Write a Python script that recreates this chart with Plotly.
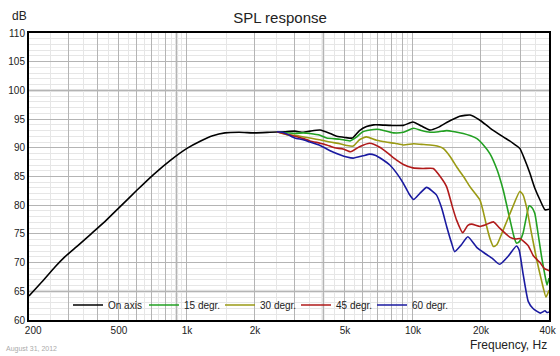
import math
import plotly.graph_objects as go

# ---------------- data ----------------
on_axis_f = [200, 230, 260, 288, 330, 379, 440, 505, 600, 709, 850, 1000, 1150, 1300, 1473, 1700,
             2000, 2330, 2700, 3000, 3270, 3500, 3880, 4300, 4600, 5000, 5400, 5800, 6230, 6700,
             7130, 8000, 9070, 10000, 10900, 11900, 13000, 14100, 16100, 17900, 19800, 22000,
             25100, 27500, 29700, 31200, 32900, 34600, 36500, 38400, 40000]
on_axis_db = [64.2, 66.8, 69.2, 71.0, 73.0, 75.1, 77.4, 79.7, 82.6, 85.3, 87.9, 89.9, 91.2, 92.1, 92.6, 92.7,
              92.6, 92.7, 92.8, 92.9, 92.7, 92.9, 93.1, 92.5, 92.0, 91.8, 91.7, 93.0, 93.7, 94.0,
              94.0, 93.9, 93.9, 94.5, 93.8, 93.1, 93.6, 94.4, 95.5, 95.7, 94.8, 93.4,
              91.9, 90.9, 89.9, 88.0, 85.6, 83.0, 80.9, 79.2, 79.3]

deg15_f = [2500, 3000, 3270, 3500, 3880, 4150, 4750, 5270, 5600, 6000, 6700, 7130, 8200, 9070,
           10070, 10900, 11900, 13000, 14100, 15300, 16700, 18000, 19200, 20500, 21900, 23500,
           25100, 26900, 28000, 28700, 29500, 30700, 31700, 32700, 33600, 34600, 35800, 37100,
           38500, 39200, 40000]
deg15_db = [92.8, 92.5, 92.6, 92.5, 92.2, 91.7, 91.5, 91.2, 91.8, 92.8, 93.2, 93.2, 92.6, 92.7,
            93.4, 93.0, 92.7, 92.8, 93.0, 92.8, 92.5, 92.1, 91.6, 90.5, 89.0, 86.3,
            82.6, 77.4, 74.5, 73.4, 73.6, 75.1, 77.8, 79.9, 79.6, 78.6, 75.0, 71.0,
            67.5, 66.1, 67.3]

deg30_f = [2500, 2760, 3000, 3500, 3880, 4300, 4750, 5100, 5440, 5800, 6230, 6900, 7600, 8300,
           9070, 10070, 10900, 11900, 12800, 13600, 14600, 15600, 16800, 17900, 19800, 20500,
           21200, 22000, 22700, 23500, 25100, 27500, 29700, 30700, 31800, 33500, 35300, 37000,
           38800, 40000]
deg30_db = [92.8, 92.3, 92.2, 91.7, 91.4, 91.0, 90.7, 90.4, 90.3, 91.4, 91.9, 91.3, 91.0, 90.8,
            90.5, 90.7, 90.6, 90.5, 90.3, 89.9, 88.5, 86.7, 84.9, 83.2, 80.9, 78.8,
            76.3, 74.0, 72.8, 73.1, 75.7, 79.5, 82.4, 81.8, 79.7, 75.0, 70.5, 67.0,
            64.0, 65.2]

deg45_f = [2500, 2670, 3000, 3270, 3500, 3880, 4150, 4500, 4900, 5300, 5800, 6450, 7130, 7670,
           8500, 9070, 10000, 11100, 12300, 13200, 14100, 15000, 15600, 16600, 17500, 18200,
           19800, 21000, 22700, 24200, 26900, 28500, 29700, 32300, 34100, 36500, 38100, 40000]
deg45_db = [92.8, 92.5, 92.0, 91.6, 91.2, 90.8, 90.5, 90.0, 89.8, 89.3, 90.2, 90.8, 90.1, 89.2,
            87.8, 87.1, 86.5, 86.4, 86.4, 85.0, 83.2, 79.5, 77.4, 75.2, 76.5, 76.7,
            76.3, 76.6, 77.1, 76.0, 74.4, 74.1, 74.2, 73.0, 71.2, 70.0, 69.0, 68.6]

deg60_f = [2500, 2650, 2800, 3000, 3270, 3500, 3880, 4300, 4750, 5100, 5440, 6000, 6450, 6800,
           7300, 7900, 8500, 9070, 9600, 10070, 10700, 11500, 12700, 13400, 14100, 14800, 15300,
           16300, 17500, 19200, 21000, 22500, 24200, 26500, 28700, 29500, 30700, 31500, 32400,
           34000, 36600, 38400, 39200, 40000]
deg60_db = [92.8, 92.7, 92.3, 91.7, 91.4, 91.0, 90.4, 89.5, 88.8, 88.4, 88.2, 88.6, 88.9, 88.7,
            88.0, 87.0, 85.5, 83.8, 82.0, 81.0, 82.0, 83.1, 81.8, 79.5, 76.3, 73.5, 71.9,
            73.0, 74.5, 72.6, 71.5, 70.7, 69.7, 71.2, 72.9, 72.2, 68.1, 65.5, 63.2,
            62.0, 61.2, 61.6, 61.3, 61.4]

series_names = ["On axis", "15 degr.", "30 degr.", "45 degr.", "60 degr."]
series_colors = ["#000000", "#22a022", "#9a9a14", "#b01a1a", "#1a1aa0"]

x_tick_vals = [200, 500, 1000, 2000, 5000, 10000, 20000, 40000]
x_tick_text = ["\u00a0\u00a0\u00a0200", "500", "1k", "2k", "5k", "10k", "20k", "40k\u00a0"]
x_major_grid = [m * 10 ** e for e in (2, 3, 4) for m in range(1, 10) if 200 <= m * 10 ** e <= 40000]
x_minor_grid = [(m + 0.5) * 10 ** e for e in (2, 3, 4) for m in range(1, 10) if 200 <= (m + 0.5) * 10 ** e <= 40000]
highlight_freqs = [900, 4000]
highlight_dbs = [100, 65]

# ---------------- figure ----------------
fig = go.Figure()
freqs = [on_axis_f, deg15_f, deg30_f, deg45_f, deg60_f]
dbs = [on_axis_db, deg15_db, deg30_db, deg45_db, deg60_db]
for i in range(5):
    fig.add_trace(go.Scatter(x=freqs[i], y=dbs[i], mode="lines", name=series_names[i],
                             line=dict(color=series_colors[i], width=1.6, shape="spline", smoothing=0.5)))

W, H = 560, 356
L, R, T, B = 29, 11, 33, 36

def px_x(p):
    return (p - L) / (W - L - R)

def px_y(p):
    return (H - B - p) / (H - T - B)

shapes = []
for f in highlight_freqs:
    shapes.append(dict(type="line", xref="x", yref="paper", x0=f, x1=f, y0=0, y1=1,
                       line=dict(color="#e0e0e0", width=3), layer="between"))
for d in highlight_dbs:
    shapes.append(dict(type="line", xref="paper", yref="y", x0=0, x1=1, y0=d, y1=d,
                       line=dict(color="#e0e0e0", width=3), layer="between"))

font_family = "Arial, Liberation Sans, sans-serif"

fig.update_layout(
    width=W, height=H,
    margin=dict(l=L, r=R, t=T, b=B, pad=0, autoexpand=False),
    paper_bgcolor="white", plot_bgcolor="white",
    font=dict(family=font_family, size=10, color="#222222"),
    title=dict(text="SPL response", x=0.5, xref="container", xanchor="center",
               y=1 - 18 / H, yanchor="middle", font=dict(size=15, color="#222222")),
    showlegend=True,
    legend=dict(orientation="h", x=px_x(68), y=px_y(305), xanchor="left", yanchor="middle",
                bgcolor="rgba(0,0,0,0)", borderwidth=0, font=dict(size=10, color="#222222"),
                entrywidth=31, entrywidthmode="pixels", traceorder="normal", itemwidth=30),
    shapes=shapes,
    annotations=[
        dict(text="dB", xref="paper", yref="paper", x=px_x(19), y=px_y(16), showarrow=False,
             xanchor="center", yanchor="middle", font=dict(size=12, color="#222222")),
        dict(text="Frequency, Hz", xref="paper", yref="paper", x=px_x(549), y=px_y(345), showarrow=False,
             xanchor="right", yanchor="middle", font=dict(size=12, color="#222222")),
        dict(text="August 31, 2012", xref="paper", yref="paper", x=px_x(4), y=px_y(349), showarrow=False,
             xanchor="left", yanchor="middle", font=dict(size=7, color="#aaaaaa")),
    ],
)

fig.update_xaxes(
    type="log", range=[math.log10(200) - 1e-6, math.log10(40000) + 1e-6],
    tickmode="array", tickvals=x_major_grid,
    ticktext=[x_tick_text[x_tick_vals.index(v)] if v in x_tick_vals else "" for v in x_major_grid],
    showgrid=True, gridcolor="#b4b4b4", gridwidth=1,
    minor=dict(tickmode="array", tickvals=x_minor_grid, showgrid=True, gridcolor="#e6e6e6", gridwidth=1, ticks=""),
    showline=True, linecolor="#000000", linewidth=2, mirror=True,
    ticks="", ticklen=0, zeroline=False, tickfont=dict(size=10, color="#222222"),
)
fig.update_yaxes(
    range=[60, 110], dtick=5, tick0=60,
    showgrid=True, gridcolor="#b4b4b4", gridwidth=1,
    minor=dict(dtick=1, showgrid=True, gridcolor="#e6e6e6", gridwidth=1, ticks=""),
    showline=True, linecolor="#000000", linewidth=2, mirror=True,
    ticks="", zeroline=False, tickfont=dict(size=10, color="#222222"),
)

fig.write_html("out.html", config={"displayModeBar": False},
               post_script="document.body.style.margin='0';document.body.style.padding='0';document.body.style.overflow='hidden';")
